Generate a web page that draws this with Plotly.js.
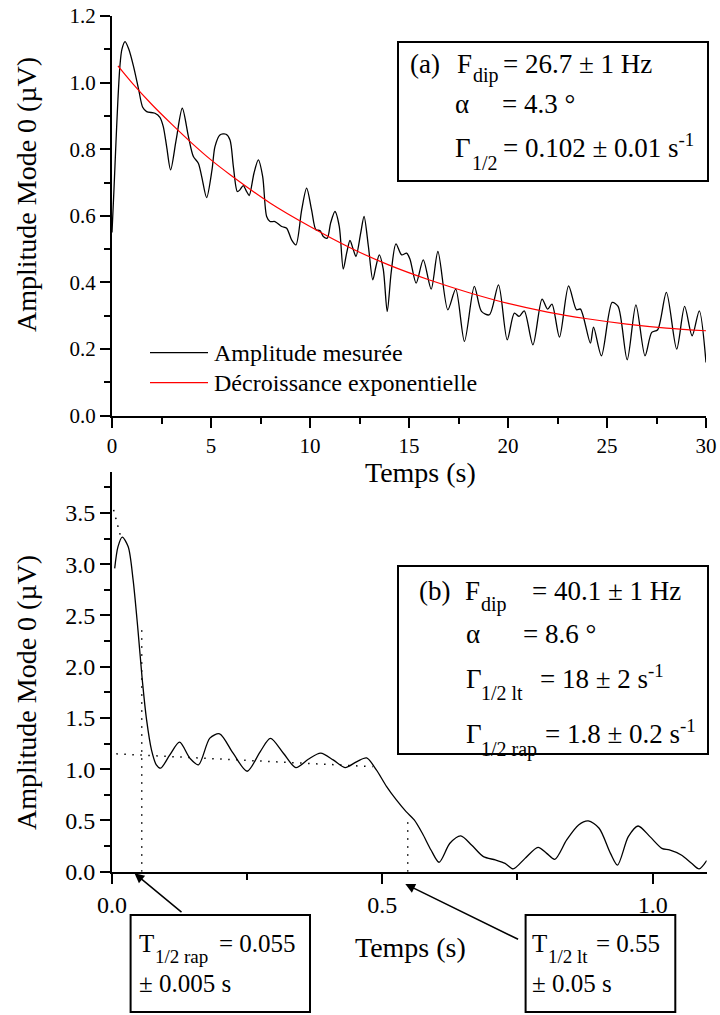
<!DOCTYPE html>
<html><head><meta charset="utf-8">
<script src="https://cdn.plot.ly/plotly-3.0.1.min.js"></script>
<style>html,body{margin:0;padding:0;background:#fff}#chart{width:720px;height:1015px}</style>
</head><body><div id="chart"></div>
<script>
// ---------- DATA ----------
// Panel (a): measured amplitude (µV) vs time (s)
const timeA = [0,0.1,0.2,0.3,0.4,0.5,0.66,0.85,1.09,1.35,
1.55,1.75,2.17,2.42,2.59,2.76,2.96,3.24,3.55,3.86,
4.11,4.36,4.53,4.78,5.05,5.2,5.45,5.76,5.96,6.13,
6.33,6.46,6.63,6.8,6.93,7.17,7.39,7.61,7.81,7.98,
8.23,8.57,8.82,9.07,9.29,9.58,9.83,10.08,10.3,10.5,
10.67,10.87,11.04,11.26,11.48,11.68,11.85,12.02,12.19,12.32,
12.56,12.73,12.95,13.17,13.33,13.5,13.7,13.9,14.1,14.34,
14.63,14.88,15.05,15.36,15.72,16.12,16.46,16.96,17.36,17.8,
18.3,18.66,19.06,19.52,19.96,20.32,20.56,20.82,21.26,21.72,
22.0,22.22,22.6,23.06,23.46,23.66,24.16,24.32,24.72,25.26,
25.56,26.02,26.46,26.92,27.26,27.56,28.0,28.52,28.92,29.3,
29.66,30.0];
const ampA = [0.55,0.68,0.82,0.95,1.05,1.1,1.123,1.1,1.048,0.978,
0.926,0.913,0.908,0.896,0.868,0.808,0.738,0.828,0.923,0.838,
0.778,0.758,0.718,0.655,0.738,0.808,0.843,0.845,0.828,0.748,
0.673,0.678,0.691,0.673,0.661,0.728,0.768,0.718,0.598,0.583,
0.583,0.568,0.563,0.528,0.513,0.618,0.683,0.618,0.558,0.556,
0.538,0.533,0.578,0.613,0.568,0.44,0.488,0.526,0.498,0.478,
0.548,0.598,0.508,0.408,0.448,0.483,0.44,0.313,0.43,0.516,
0.483,0.488,0.47,0.398,0.468,0.38,0.493,0.318,0.38,0.223,
0.388,0.313,0.303,0.393,0.228,0.308,0.298,0.315,0.213,0.35,
0.32,0.335,0.236,0.39,0.318,0.32,0.218,0.266,0.18,0.34,
0.328,0.168,0.333,0.18,0.25,0.258,0.37,0.2,0.328,0.24,
0.315,0.16];
// Panel (a): exponential decay fit
const fitTimeA = [0.3,1,2,3,4,5,6,8,10,12,14,16,18,20,22,24,26,28,30];
const fitAmpA  = [1.05,1.0,0.935,0.876,0.82,0.768,0.722,0.638,0.568,0.505,0.452,0.408,0.37,0.337,0.311,0.291,0.275,0.263,0.255];

// Panel (b): measured amplitude (µV) vs time (s)
const timeB = [0.005,0.011,0.019,0.03,0.039,0.048,0.056,0.064,0.073,0.082,
0.09,0.107,0.125,0.144,0.16,0.181,0.199,0.224,0.25,0.274,
0.293,0.317,0.34,0.363,0.386,0.409,0.431,0.453,0.471,0.489,
0.508,0.526,0.544,0.559,0.574,0.59,0.605,0.625,0.645,0.665,
0.687,0.709,0.727,0.742,0.764,0.788,0.804,0.819,0.841,0.863,
0.881,0.901,0.922,0.935,0.955,0.973,0.995,1.017,1.031,1.053,
1.072,1.086,1.1];
const ampB = [2.96,3.17,3.265,3.17,2.85,2.36,1.872,1.481,1.189,1.043,
1.01,1.14,1.264,1.108,1.043,1.303,1.345,1.156,0.98,1.17,
1.30,1.156,1.016,1.097,1.156,1.091,1.016,1.075,1.11,0.993,
0.83,0.70,0.586,0.505,0.375,0.212,0.092,0.277,0.349,0.261,
0.147,0.115,0.082,0.027,0.13,0.238,0.179,0.121,0.31,0.456,
0.495,0.424,0.179,0.065,0.342,0.446,0.342,0.228,0.212,0.163,
0.082,0.027,0.108];
// Panel (b): dotted guide lines
const tangentT = [0.003, 0.016];  const tangentV = [3.53, 3.27];
const rapT = [0.055, 0.055];      const rapV = [0, 2.38];
const plateauT = [0.008, 0.482];  const plateauV = [1.15, 1.025];
const ltT = [0.547, 0.547];       const ltV = [0, 0.5];

// Tick labels
const xTicksA = [0,5,10,15,20,25,30];
const yTicksA = [0,0.2,0.4,0.6,0.8,1.0,1.2];
const xTicksB = [0,0.5,1.0];
const yTicksB = [0,0.5,1.0,1.5,2.0,2.5,3.0,3.5];

// Texts
const seriesNames = ['Amplitude mesurée','Décroissance exponentielle'];
const xTitle = 'Temps (s)';
const yTitle = 'Amplitude Mode 0 (µV)';

// ---------- LAYOUT HELPERS ----------
const W = 720, H = 1015;
const FONT = 'Liberation Serif, Times New Roman, Times, serif';
const PX = x => x / W;
const PY = y => 1 - y / H;
function txt(xPx, basePx, text, size, extra) {
  return Object.assign({
    xref:'paper', yref:'paper', x: PX(xPx - 2), y: PY(basePx + 0.216*size + 2),
    xanchor:'left', yanchor:'bottom', text: text, showarrow:false,
    font:{family:FONT, size:size, color:'#000'}
  }, extra || {});
}
function box(x0,y0,x1,y1){
  return {type:'rect', xref:'paper', yref:'paper', x0:PX(x0), x1:PX(x1), y0:PY(y1), y1:PY(y0),
    line:{color:'#000', width:2}, fillcolor:'rgba(0,0,0,0)'};
}
const axBase = {showline:true, linecolor:'#000', linewidth:2, ticks:'outside', ticklen:10,
  tickwidth:2, tickcolor:'#000', showgrid:false, zeroline:false, mirror:false, fixedrange:true};

const traces = [
  {x: timeA, y: ampA, xaxis:'x', yaxis:'y', mode:'lines', name:seriesNames[0],
   line:{color:'#000', width:1.3, shape:'spline', smoothing:0.8}},
  {x: fitTimeA, y: fitAmpA, xaxis:'x', yaxis:'y', mode:'lines', name:seriesNames[1],
   line:{color:'#ff0000', width:1.2, shape:'spline', smoothing:1}},
  {x: timeB, y: ampB, xaxis:'x2', yaxis:'y2', mode:'lines',
   line:{color:'#000', width:1.3, shape:'spline', smoothing:0.8}},
  {x: tangentT, y: tangentV, xaxis:'x2', yaxis:'y2', mode:'lines', line:{color:'#000', width:1.5, dash:'1.5px,6.5px'}},
  {x: rapT, y: rapV, xaxis:'x2', yaxis:'y2', mode:'lines', line:{color:'#000', width:1.5, dash:'1.5px,6.5px'}},
  {x: plateauT, y: plateauV, xaxis:'x2', yaxis:'y2', mode:'lines', line:{color:'#000', width:1.5, dash:'1.5px,6.5px'}},
  {x: ltT, y: ltV, xaxis:'x2', yaxis:'y2', mode:'lines', line:{color:'#000', width:1.5, dash:'1.5px,6.5px'}}
];

const layout = {
  width: W, height: H, margin:{l:0,r:0,t:0,b:0}, showlegend:false,
  paper_bgcolor:'#fff', plot_bgcolor:'rgba(0,0,0,0)',
  font:{family:FONT, color:'#000', size:21},
  xaxis: Object.assign({}, axBase, {domain:[PX(112),PX(706)], range:[0,30], anchor:'y',
    tickmode:'array', tickvals:xTicksA, ticktext:xTicksA.map(String), tickfont:{family:FONT, size:21},
    minor:{dtick:2.5, tick0:0, ticks:'outside', ticklen:6, tickwidth:2, tickcolor:'#000', showgrid:false}}),
  yaxis: Object.assign({}, axBase, {domain:[PY(415.7),PY(16)], range:[0,1.2], anchor:'x',
    tickmode:'array', tickvals:yTicksA, ticktext:yTicksA.map(v=>v.toFixed(1)), tickfont:{family:FONT, size:21},
    minor:{dtick:0.1, tick0:0, ticks:'outside', ticklen:6, tickwidth:2, tickcolor:'#000', showgrid:false}}),
  xaxis2: Object.assign({}, axBase, {domain:[PX(112),PX(706.7)], range:[0,1.1], anchor:'y2',
    tickmode:'array', tickvals:xTicksB, ticktext:xTicksB.map(v=>v.toFixed(1)), tickfont:{family:FONT, size:24},
    minor:{dtick:0.25, tick0:0, ticks:'outside', ticklen:6, tickwidth:2, tickcolor:'#000', showgrid:false}}),
  yaxis2: Object.assign({}, axBase, {domain:[PY(871.7),PY(472)], range:[0,3.9], anchor:'x2',
    tickmode:'array', tickvals:yTicksB, ticktext:yTicksB.map(v=>v.toFixed(1)), tickfont:{family:FONT, size:24},
    minor:{dtick:0.25, tick0:0, ticks:'outside', ticklen:6, tickwidth:2, tickcolor:'#000', showgrid:false}}),
  shapes: [
    box(398,42,708,181),
    box(398,566,708,754),
    box(130.6,915,310,1012),
    box(525.6,915,675.3,1012),
    // legend samples
    {type:'line', xref:'paper', yref:'paper', x0:PX(150), x1:PX(208), y0:PY(352.7), y1:PY(352.7), line:{color:'#000', width:1.3}},
    {type:'line', xref:'paper', yref:'paper', x0:PX(150), x1:PX(208), y0:PY(382.7), y1:PY(382.7), line:{color:'#ff0000', width:1.2}}
  ],
  annotations: [
    // axis titles
    {xref:'paper', yref:'paper', x:PX(26), y:PY(195), text:yTitle, textangle:-90, showarrow:false,
     xanchor:'center', yanchor:'middle', font:{family:FONT, size:28, color:'#000'}},
    {xref:'paper', yref:'paper', x:PX(26), y:PY(693), text:yTitle, textangle:-90, showarrow:false,
     xanchor:'center', yanchor:'middle', font:{family:FONT, size:28, color:'#000'}},
    {xref:'paper', yref:'paper', x:PX(420), y:PY(472), text:xTitle, showarrow:false,
     xanchor:'center', yanchor:'middle', font:{family:FONT, size:28, color:'#000'}},
    {xref:'paper', yref:'paper', x:PX(410), y:PY(947), text:xTitle, showarrow:false,
     xanchor:'center', yanchor:'middle', font:{family:FONT, size:28, color:'#000'}},
    // legend texts
    txt(214, 360.5, seriesNames[0], 24),
    txt(214, 390.5, seriesNames[1], 24),
    // box (a)
    txt(410, 72.7, '(a)', 27),
    txt(456.7, 72.7, 'F', 27),
    txt(473, 82.7, 'dip', 20),
    txt(503.3, 72.7, '= 26.7 ± 1 Hz', 27),
    txt(455, 113.3, 'α', 27),
    txt(501.7, 113.3, '= 4.3 °', 27),
    txt(455, 156.7, 'Γ', 27),
    txt(472, 170, '1/2', 20),
    txt(503.3, 156.7, '= 0.102 ± 0.01 s<sup>-1</sup>', 27),
    // box (b)
    txt(419.3, 600, '(b)', 27),
    txt(465, 600, 'F', 27),
    txt(481, 611.7, 'dip', 20),
    txt(531.7, 600, '= 40.1 ± 1 Hz', 27),
    txt(466, 643.3, 'α', 27),
    txt(523.3, 643.3, '= 8.6 °', 27),
    txt(466, 688.3, 'Γ', 27),
    txt(481, 700, '1/2 lt', 20),
    txt(540, 688.3, '= 18 ± 2 s<sup>-1</sup>', 27),
    txt(466, 743.3, 'Γ', 27),
    txt(481, 756.7, '1/2 rap', 20),
    txt(545, 743.3, '= 1.8 ± 0.2 s<sup>-1</sup>', 27),
    // bottom-left box
    txt(139.3, 951.7, 'T', 25),
    txt(155, 963, '1/2 rap', 19),
    txt(218.7, 951.7, '= 0.055', 25),
    txt(139.3, 991.7, '± 0.005 s', 25),
    // bottom-right box
    txt(532.3, 951.7, 'T', 25),
    txt(548, 963, '1/2 lt', 19),
    txt(595.9, 951.7, '= 0.55', 25),
    txt(532.3, 991.7, '± 0.05 s', 25),
    // arrows
    {xref:'paper', yref:'paper', x:PX(134.5), y:PY(873.3), ax:48.5, ay:40, text:'', showarrow:true,
     arrowhead:2, arrowsize:1.3, arrowwidth:1.5, arrowcolor:'#000', standoff:0},
    {xref:'paper', yref:'paper', x:PX(405.3), y:PY(884), ax:114.3, ay:56, text:'', showarrow:true,
     arrowhead:2, arrowsize:1.3, arrowwidth:1.5, arrowcolor:'#000', standoff:0}
  ]
};

Plotly.newPlot('chart', traces, layout, {staticPlot:true, displayModeBar:false});
</script>
</body></html>
